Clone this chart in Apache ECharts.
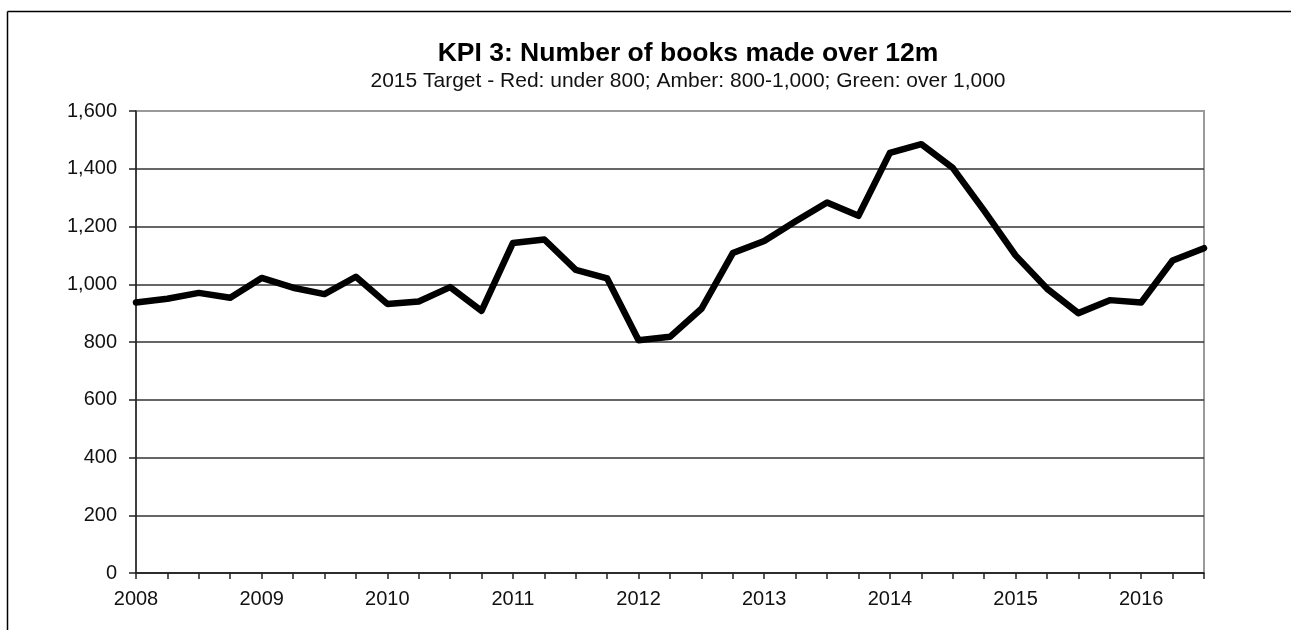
<!DOCTYPE html>
<html>
<head>
<meta charset="utf-8">
<script src="https://cdn.jsdelivr.net/npm/echarts@6/dist/echarts.min.js"></script>
<style>
  html, body { margin: 0; padding: 0; background: #fff; }
  #chart { width: 1291px; height: 630px; }
</style>
</head>
<body>
<div id="chart"></div>
<script>
// Quarterly rolling 12-month totals, 2008 Q1 to 2016 Q3
const quarters = [
  '2008 Q1','2008 Q2','2008 Q3','2008 Q4',
  '2009 Q1','2009 Q2','2009 Q3','2009 Q4',
  '2010 Q1','2010 Q2','2010 Q3','2010 Q4',
  '2011 Q1','2011 Q2','2011 Q3','2011 Q4',
  '2012 Q1','2012 Q2','2012 Q3','2012 Q4',
  '2013 Q1','2013 Q2','2013 Q3','2013 Q4',
  '2014 Q1','2014 Q2','2014 Q3','2014 Q4',
  '2015 Q1','2015 Q2','2015 Q3','2015 Q4',
  '2016 Q1','2016 Q2','2016 Q3'
];
const booksMade = [
  937, 950, 970, 953,
  1022, 988, 966, 1026,
  932, 940, 990, 908,
  1143, 1155, 1050, 1020,
  806, 818, 915, 1108,
  1150, 1218, 1283, 1237,
  1455, 1485, 1403, 1255,
  1100, 985, 900, 945,
  937, 1082, 1125
];
const yTicks = [0, 200, 400, 600, 800, 1000, 1200, 1400, 1600];

const titleText = 'KPI 3: Number of books made over 12m';
const subtitleText = '2015 Target - Red: under 800; Amber: 800-1,000; Green: over 1,000';

const font = '"Liberation Sans", Arial, sans-serif';
const chart = echarts.init(document.getElementById('chart'), null, { renderer: 'canvas' });

chart.setOption({
  animation: false,
  backgroundColor: '#ffffff',
  title: {
    text: titleText,
    subtext: subtitleText,
    left: 683,
    textAlign: 'center',
    top: 35,
    itemGap: 4,
    textStyle: { fontFamily: font, fontSize: 26.5, fontWeight: 'bold', color: '#000' },
    subtextStyle: { fontFamily: font, fontSize: 21, color: '#111' }
  },
  grid: {
    left: 136, right: 87, top: 111, bottom: 57,
    show: true, borderColor: '#9a9a9a', borderWidth: 2,
    containLabel: false
  },
  xAxis: {
    type: 'category',
    data: quarters,
    boundaryGap: false,
    axisLine: { show: true, lineStyle: { color: '#222', width: 1.5 } },
    axisTick: { show: true, interval: 0, length: 6, lineStyle: { color: '#222', width: 1.5 } },
    axisLabel: {
      interval: 3,
      margin: 16,
      fontFamily: font, fontSize: 20, color: '#111',
      formatter: v => v.slice(0, 4)
    },
    splitLine: { show: false }
  },
  yAxis: {
    type: 'value',
    min: yTicks[0],
    max: yTicks[yTicks.length - 1],
    interval: yTicks[1] - yTicks[0],
    axisLine: { show: true, lineStyle: { color: '#222', width: 1.5 } },
    axisTick: { show: true, length: 7, lineStyle: { color: '#222', width: 1.5 } },
    axisLabel: {
      margin: 19,
      fontFamily: font, fontSize: 20, color: '#111',
      formatter: v => v.toLocaleString('en-US')
    },
    splitLine: {
      show: true,
      lineStyle: {
        color: ['#333','#333','#333','#333','#333','#333','#333','#333','#9a9a9a'],
        width: 1.5
      }
    }
  },
  series: [{
    type: 'line',
    data: booksMade,
    showSymbol: false,
    symbol: 'none',
    lineStyle: { color: '#000', width: 6.5, join: 'round', cap: 'round' },
    z: 5
  }],
  graphic: [
    {
      type: 'line',
      shape: { x1: 7.5, y1: 11.5, x2: 1291, y2: 11.5 },
      style: { stroke: '#000', lineWidth: 1.5 }
    },
    {
      type: 'line',
      shape: { x1: 7.5, y1: 11.5, x2: 7.5, y2: 630 },
      style: { stroke: '#000', lineWidth: 1.5 }
    }
  ]
});
</script>
</body>
</html>
